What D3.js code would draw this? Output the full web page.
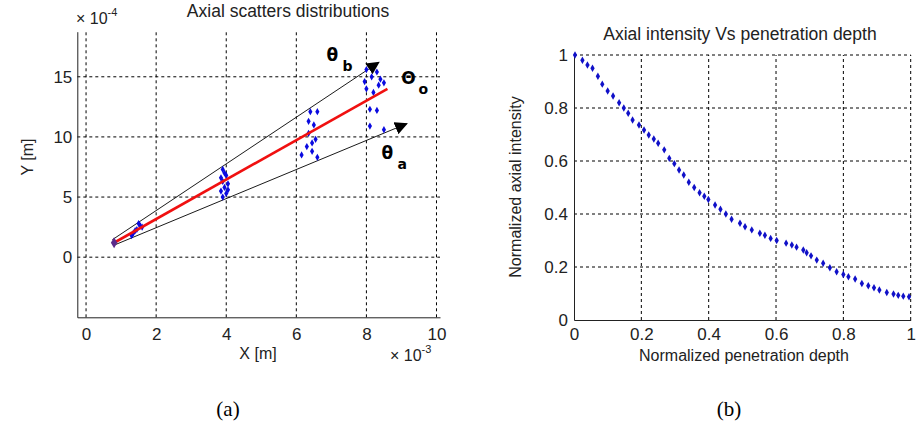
<!DOCTYPE html>
<html>
<head>
<meta charset="utf-8">
<script src="https://cdn.jsdelivr.net/npm/d3@7"></script>
<style>
body { margin: 0; background: #fff; }
svg { display: block; }
.tick text { font-family: "Liberation Sans", Arial, sans-serif; font-size: 17px; fill: #222; }
.lbl { font-family: "Liberation Sans", Arial, sans-serif; font-size: 16px; fill: #222; }
.ttl { font-family: "Liberation Sans", Arial, sans-serif; font-size: 17.5px; fill: #222; }
.grid line { stroke: #000; stroke-dasharray: 3,3; stroke-width: 1; }
.greek { font-family: "DejaVu Sans", sans-serif; font-weight: bold; fill: #000; }
.cap { font-family: "Liberation Serif", "DejaVu Serif", serif; font-size: 21px; fill: #000; }
</style>
</head>
<body>
<script>
// ---- data (a) axial scatters, units: x*1e-3 m, y*1e-4 m ----
var scatterX = [1.35, 1.45, 1.55, 1.5, 1.4, 1.3, 1.6,
    3.9, 3.95, 3.85, 4.0, 3.9, 4.05, 3.95, 3.85, 4.0, 3.9, 4.05,
    6.4, 6.6, 6.35, 6.5, 6.35, 6.45, 6.55, 6.3, 6.45, 6.15, 6.6,
    8.0, 8.3, 8.15, 8.4, 8.5, 8.0, 8.2, 8.35, 8.1, 8.3, 8.1, 8.5, 7.95];
var scatterY = [2.0, 2.3, 2.6, 2.8, 2.2, 1.8, 2.5,
    7.3, 7.0, 6.6, 6.8, 6.3, 6.1, 5.8, 5.5, 5.3, 5.0, 5.6,
    12.1, 12.1, 11.3, 11.0, 10.3, 9.5, 9.8, 9.2, 8.8, 8.5, 8.3,
    15.6, 15.4, 15.0, 14.8, 14.5, 14.0, 13.7, 14.3, 12.3, 12.2, 10.9, 10.6, 14.6];
var axisLine = [[0.8, 1.2], [8.6, 14.0]];           // red mean direction
var boundUpper = [[0.75, 1.45], [8.35, 16.2]];      // theta_b
var boundLower = [[0.8, 1.0], [9.15, 11.1]];        // theta_a
var sourcePoint = [0.8, 1.2];
var xTicksA = [0, 2, 4, 6, 8, 10];
var yTicksA = [0, 5, 10, 15];

// ---- data (b) axial intensity ----
var depth = [0.003, 0.025, 0.04, 0.055, 0.071, 0.084, 0.1, 0.116, 0.134, 0.148, 0.161, 0.174,
    0.193, 0.208, 0.222, 0.237, 0.25, 0.268, 0.283, 0.298, 0.312, 0.326, 0.341, 0.357, 0.373,
    0.387, 0.399, 0.419, 0.435, 0.451, 0.468, 0.493, 0.508, 0.528, 0.552, 0.567, 0.584, 0.602,
    0.63, 0.647, 0.661, 0.681, 0.691, 0.704, 0.721, 0.74, 0.76, 0.78, 0.8, 0.815, 0.835, 0.855,
    0.874, 0.891, 0.907, 0.929, 0.949, 0.963, 0.978, 0.995];
var intensity = [1.0, 0.98, 0.962, 0.95, 0.92, 0.89, 0.864, 0.845, 0.82, 0.80, 0.78, 0.755,
    0.736, 0.717, 0.698, 0.683, 0.667, 0.642, 0.61, 0.59, 0.566, 0.547, 0.52, 0.5, 0.48,
    0.467, 0.455, 0.434, 0.418, 0.4, 0.38, 0.365, 0.352, 0.34, 0.327, 0.32, 0.308, 0.3,
    0.29, 0.283, 0.275, 0.264, 0.254, 0.242, 0.226, 0.214, 0.197, 0.182, 0.172, 0.163, 0.155, 0.138,
    0.129, 0.122, 0.113, 0.104, 0.098, 0.093, 0.09, 0.088];
var ticksB = [0, 0.2, 0.4, 0.6, 0.8, 1];

var svg = d3.select("body").append("svg")
    .attr("width", 916)
    .attr("height", 434);

// arrow head marker
svg.append("defs").append("marker")
    .attr("id", "arrow")
    .attr("viewBox", "0 0 10 10")
    .attr("refX", 9).attr("refY", 5)
    .attr("markerWidth", 13).attr("markerHeight", 13)
    .attr("markerUnits", "userSpaceOnUse")
    .attr("orient", "auto")
    .append("path")
    .attr("d", "M0,0 L10,5 L0,10 Z")
    .attr("fill", "#000");

// ================= panel (a) =================
var xA = d3.scaleLinear().domain([-0.25, 10.1]).range([77.3, 440]);
var yA = d3.scaleLinear().domain([-5, 18.75]).range([317.3, 31.7]);

var gA = svg.append("g");

// grid
var gridA = gA.append("g").attr("class", "grid");
gridA.selectAll(".v").data(xTicksA).enter().append("line")
    .attr("x1", d => xA(d)).attr("x2", d => xA(d))
    .attr("y1", yA.range()[0]).attr("y2", yA.range()[1]);
gridA.selectAll(".h").data(yTicksA).enter().append("line")
    .attr("y1", d => yA(d)).attr("y2", d => yA(d))
    .attr("x1", xA.range()[0]).attr("x2", xA.range()[1]);

// axes
gA.append("g")
    .attr("transform", "translate(0," + yA.range()[0] + ")")
    .call(d3.axisBottom(xA).tickValues(xTicksA).tickSizeInner(0).tickSizeOuter(0).tickPadding(11))
    .call(g => g.select(".domain").attr("stroke", "#222"));
gA.append("g")
    .attr("transform", "translate(" + xA.range()[0] + ",0)")
    .call(d3.axisLeft(yA).tickValues(yTicksA).tickSizeInner(0).tickSizeOuter(0).tickPadding(5))
    .call(g => g.select(".domain").attr("stroke", "#222"));

// bounding directions
var lineA = d3.line().x(d => xA(d[0])).y(d => yA(d[1]));
[boundUpper, boundLower].forEach(function(b){
    gA.append("path")
        .attr("d", lineA(b))
        .attr("stroke", "#000").attr("stroke-width", 0.9).attr("fill", "none")
        .attr("marker-end", "url(#arrow)");
});

// scatters
gA.selectAll(".sc").data(scatterX).enter().append("path")
    .attr("class", "sc")
    .attr("d", d3.symbol().type(d3.symbolDiamond).size(15))
    .attr("transform", (d, i) => "translate(" + xA(d) + "," + yA(scatterY[i]) + ")")
    .attr("fill", "#0a0ae0");

// mean axis
gA.append("path")
    .attr("d", lineA(axisLine))
    .attr("stroke", "#f01010").attr("stroke-width", 2.6).attr("fill", "none");

gA.append("path")
    .attr("d", d3.symbol().type(d3.symbolDiamond).size(36))
    .attr("transform", "translate(" + xA(sourcePoint[0]) + "," + yA(sourcePoint[1]) + ")")
    .attr("fill", "#5a2a8a");

// angle labels
var greek = [
    {t: "θ", s: "b", x: 7.03, y: 16.8},
    {t: "Θ", s: "o", x: 9.2, y: 14.9},
    {t: "θ", s: "a", x: 8.6, y: 8.64}
];
greek.forEach(function(g){
    gA.append("text").attr("class", "greek")
        .attr("x", xA(g.x)).attr("y", yA(g.y) + 6)
        .attr("text-anchor", "middle")
        .attr("font-size", 17)
        .text(g.t);
    gA.append("text").attr("class", "greek")
        .attr("x", xA(g.x) + 10).attr("y", yA(g.y) + 16)
        .attr("font-size", 14)
        .text(g.s);
});

// labels
gA.append("text").attr("class", "ttl")
    .attr("x", 288).attr("y", 17).attr("text-anchor", "middle")
    .text("Axial scatters distributions");
gA.append("text").attr("class", "lbl")
    .attr("x", 76).attr("y", 24)
    .html('× 10<tspan dy="-8" font-size="11">-4</tspan>');
gA.append("text").attr("class", "lbl")
    .attr("x", 390).attr("y", 361)
    .html('× 10<tspan dy="-8" font-size="11">-3</tspan>');
gA.append("text").attr("class", "lbl")
    .attr("x", 258).attr("y", 359).attr("text-anchor", "middle")
    .text("X [m]");
gA.append("text").attr("class", "lbl")
    .attr("transform", "translate(33,157) rotate(-90)")
    .attr("text-anchor", "middle")
    .text("Y [m]");
svg.append("text").attr("class", "cap")
    .attr("x", 228).attr("y", 416).attr("text-anchor", "middle")
    .text("(a)");

// ================= panel (b) =================
var xB = d3.scaleLinear().domain([0, 1]).range([574, 910.7]);
var yB = d3.scaleLinear().domain([0, 1]).range([320, 55]);

var gB = svg.append("g");
var gridB = gB.append("g").attr("class", "grid");
gridB.selectAll(".v").data(ticksB.slice(1)).enter().append("line")
    .attr("x1", d => xB(d)).attr("x2", d => xB(d))
    .attr("y1", yB.range()[0]).attr("y2", yB.range()[1]);
gridB.selectAll(".h").data(ticksB.slice(1)).enter().append("line")
    .attr("y1", d => yB(d)).attr("y2", d => yB(d))
    .attr("x1", xB.range()[0]).attr("x2", xB.range()[1]);

gB.append("g")
    .attr("transform", "translate(0," + yB.range()[0] + ")")
    .call(d3.axisBottom(xB).tickValues(ticksB).tickFormat(d3.format("~g")).tickSizeInner(0).tickSizeOuter(0).tickPadding(8))
    .call(g => g.select(".domain").attr("stroke", "#222"));
gB.append("g")
    .attr("transform", "translate(" + xB.range()[0] + ",0)")
    .call(d3.axisLeft(yB).tickValues(ticksB).tickFormat(d3.format("~g")).tickSizeInner(0).tickSizeOuter(0).tickPadding(6))
    .call(g => g.select(".domain").attr("stroke", "#222"));

gB.selectAll(".pt").data(depth).enter().append("path")
    .attr("class", "pt")
    .attr("d", d3.symbol().type(d3.symbolDiamond).size(16))
    .attr("transform", (d, i) => "translate(" + xB(d) + "," + yB(intensity[i]) + ")")
    .attr("fill", "#1010c8");

gB.append("text").attr("class", "ttl")
    .attr("x", 740).attr("y", 40).attr("text-anchor", "middle")
    .text("Axial intensity Vs penetration depth");
gB.append("text").attr("class", "lbl")
    .attr("x", 744).attr("y", 361).attr("text-anchor", "middle")
    .text("Normalized penetration depth");
gB.append("text").attr("class", "lbl")
    .attr("transform", "translate(521,187) rotate(-90)")
    .attr("text-anchor", "middle")
    .text("Normalized axial intensity");
svg.append("text").attr("class", "cap")
    .attr("x", 729).attr("y", 416).attr("text-anchor", "middle")
    .text("(b)");
</script>
</body>
</html>
